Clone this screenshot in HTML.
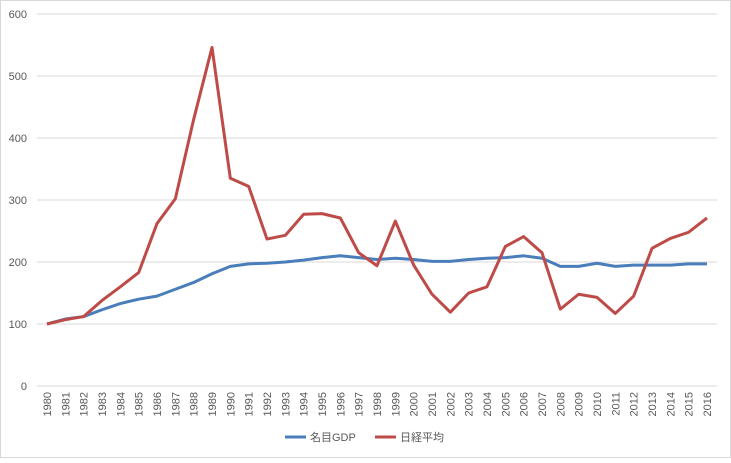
<!DOCTYPE html>
<html><head><meta charset="utf-8"><style>
body{margin:0;background:#fff;font-family:"Liberation Sans","Noto Sans CJK JP",sans-serif}
svg text{font-family:"Liberation Sans","Noto Sans CJK JP",sans-serif;fill:#595959;font-size:11px}
</style></head><body>
<svg id="chart" width="731" height="458" xmlns="http://www.w3.org/2000/svg">
<rect x="0.5" y="0.5" width="730" height="457" fill="#fff" stroke="#d9d9d9"/>
<g id="grid"></g><g id="series"></g><g id="axes"></g>
<g>
<g><line x1="285" y1="437" x2="306" y2="437" stroke="#4a7ebb" stroke-width="3"/><text x="310" y="441">名目GDP</text></g>
<g><line x1="375" y1="437" x2="396" y2="437" stroke="#be4b48" stroke-width="3"/><text x="400" y="441">日経平均</text></g>
</g>
</svg>
<script>
const years=[];for(let y=1980;y<=2016;y++)years.push(String(y));
const gdp=[100,108,112,123,133,140,145,156,167,181,193,197,198,200,203,207,210,207,204,206,204,201,201,204,206,207,210,206,193,193,198,193,195,195,195,197,197];
const nikkei=[100,107,112,138,160,183,262,302,430,546,335,322,237,243,277,278,271,215,194,266,195,148,119,150,160,225,241,215,124,148,143,117,145,222,238,248,271];
const yTicks=[0,100,200,300,400,500,600];
const NS="http://www.w3.org/2000/svg";
const x=i=>47+i*(660/36);
const y=v=>386-v*0.62;
function mk(t,a,p){const e=document.createElementNS(NS,t);for(const k in a)e.setAttribute(k,a[k]);p.appendChild(e);return e;}
const grid=document.getElementById('grid'),axes=document.getElementById('axes'),ser=document.getElementById('series');
yTicks.forEach(v=>{
const l=mk('line',{x1:37,x2:717,y1:y(v),y2:y(v),stroke:'#d9d9d9','stroke-width':1},grid);


const t=mk('text',{x:27,y:y(v)+4,'text-anchor':'end'},axes);t.textContent=v;


});
years.forEach((yr,i)=>{
const t=mk('text',{transform:`translate(${x(i)+4},${392}) rotate(-90)`,'text-anchor':'end','font-size':'10.5'},axes);t.textContent=yr;


});
function line(vals,col,name){
const p=mk('polyline',{points:vals.map((v,i)=>x(i)+','+y(v)).join(' '),fill:'none',stroke:col,'stroke-width':3,'stroke-linejoin':'round'},ser);


}
line(gdp,'#4a7ebb','gdp-line');
line(nikkei,'#be4b48','nikkei-line');
</script>
</body></html>
